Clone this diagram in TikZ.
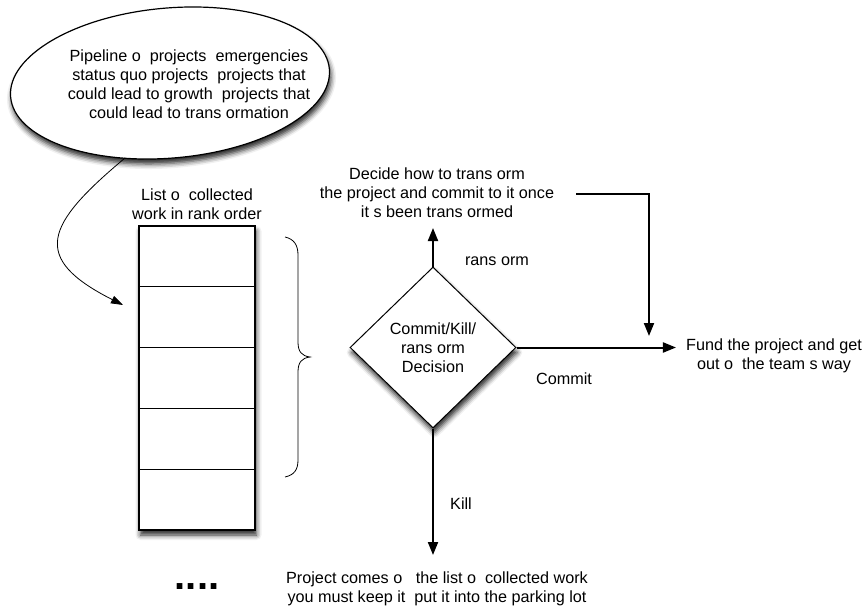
\documentclass[tikz,border=0pt]{standalone}
\usepackage{fontspec}
\setmainfont{Liberation Sans}
\usetikzlibrary{arrows.meta,shapes.geometric,shadows.blur}
\begin{document}
\begin{tikzpicture}[x=1pt,y=-1pt,
  every node/.style={font=\fontsize{16.2}{19}\selectfont, inner sep=0pt},
  txt/.style={align=center},
  shade/.style={blur shadow={shadow xshift=1.5pt, shadow yshift=-5pt, shadow blur radius=5pt, shadow opacity=85}},
  thickarrow/.style={line width=2pt, -{Triangle[length=13pt,width=10pt]}},
  thinarrow/.style={line width=0.8pt, -{Triangle[length=12pt,width=8pt]}},
  cell/.style={draw, line width=1.1pt, minimum width=116pt, minimum height=60.8pt}
]
\useasboundingbox (0,0) rectangle (863,608);

% pipeline ellipse (right side raised)
\node (pipe) [ellipse, draw, line width=1.2pt, fill=white, minimum width=320pt, minimum height=150pt, rotate=5, shade] at (170,83) {};
\node (pipetxt) [txt] at (189,84) {Pipeline o\ \ projects\ \ emergencies\\ status quo projects\ \ projects that\\ could lead to growth\ \ projects that\\ could lead to trans ormation};

% list of collected work
\node (listlbl) [txt] at (197,204) {List o\ \ collected\\ work in rank order};
\node (list) [draw, line width=1.1pt, fill=white, minimum width=116pt, minimum height=304pt, shade] at (197,378) {};
\foreach \i in {1,...,5}{
  \node (c\i) [cell] at (197,{226+60.8*(\i-0.5)}) {};
}

% curved arrow from ellipse to list
\coordinate (pipeout) at (125,158);
\coordinate (listin) at (123,305);
\draw[thinarrow] (pipeout) .. controls (45,225) and (30,258) .. (listin);

% brace
\draw[line width=0.8pt] (285,237) .. controls (294,239) and (298,245) .. (298,255)
  -- (298,342) .. controls (298,352) and (302,356) .. (310,357)
  .. controls (302,358) and (298,362) .. (298,372)
  -- (298,460) .. controls (298,470) and (294,475) .. (285,477);

% decision diamond
\node (dec) [diamond, draw, line width=1pt, fill=white, minimum width=166pt, minimum height=161pt, shade, txt] at (433,347.5) {Commit/Kill/\\ rans orm\\ Decision};

% transform branch
\node (decide) [txt] at (437,193) {Decide how to trans orm\\ the project and commit to it once\\ it s been trans ormed};
\coordinate (uptip) at (433,228);
\draw[thickarrow] (dec.north) -- (uptip);
\node (tlbl) at (497,261) {rans orm};

\coordinate (tr1) at (576,194);
\coordinate (fundin) at (649,336);
\draw[thickarrow] (tr1) -| (fundin);

% commit branch
\node (fund) [txt] at (774,356) {Fund the project and get\\ out o\ \ the team s way};
\draw[thickarrow, shorten >=10pt] (dec.east) -- (dec.east -| fund.west);
\node (clbl) at (564,379) {Commit};

% kill branch
\coordinate (killtip) at (433,555);
\draw[thickarrow] (dec.south) -- (killtip);
\node (klbl) at (461,504) {Kill};
\node (park) [txt] at (437,589) {Project comes o\ \ \ the list o\ \ collected work\\ you must keep it\ \ put it into the parking lot};

% dots
\node (dots) at (197,587) {\fontsize{40}{40}\selectfont\bfseries ....};
\end{tikzpicture}
\end{document}
